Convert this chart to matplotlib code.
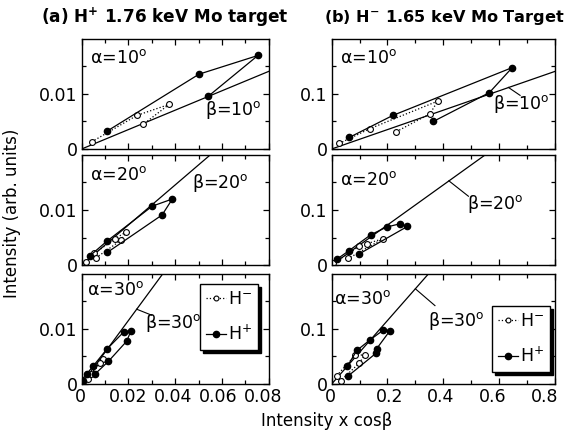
import numpy as np
import matplotlib
matplotlib.use("Agg")
import matplotlib.pyplot as plt
import matplotlib.transforms as mtransforms
from matplotlib.lines import Line2D

plt.rcParams['font.family'] = ['DejaVu Sans']
plt.rcParams['mathtext.fontset'] = 'dejavusans'

# angulos
alphas = [10, 20, 30]
betas = [10, 20, 30]

# (a) H+ 1.76 keV -- columna izquierda
a10_hp_x = [0.0107, 0.0502, 0.0754, 0.0542]
a10_hp_y = [0.0032, 0.0136, 0.0170, 0.0096]
a10_hm_x = [0.0043, 0.0236, 0.0374, 0.0264]
a10_hm_y = [0.0013, 0.0061, 0.0081, 0.0045]

a20_hp_x = [0.0036, 0.0107, 0.0302, 0.0388, 0.0344, 0.0110]
a20_hp_y = [0.0017, 0.0043, 0.0107, 0.0120, 0.0091, 0.0023]
a20_hm_x = [0.0019, 0.0054, 0.0143, 0.0190, 0.0168, 0.0061]
a20_hm_y = [0.0005, 0.0021, 0.0048, 0.0060, 0.0045, 0.0013]

a30_hp_x = [0.0007, 0.0021, 0.0050, 0.0107, 0.0181, 0.0211, 0.0193, 0.0114, 0.0057]
a30_hp_y = [0.0006, 0.0018, 0.0033, 0.0063, 0.0095, 0.0097, 0.0078, 0.0041, 0.0018]
a30_hm_x = [0.0000, 0.0013, 0.0041, 0.0091, 0.0077, 0.0028]
a30_hm_y = [0.0002, 0.0009, 0.0018, 0.0045, 0.0039, 0.0009]

# (b) H- 1.65 keV -- columna derecha
b10_hp_x = [0.063, 0.219, 0.647, 0.565, 0.364]
b10_hp_y = [0.021, 0.061, 0.148, 0.1025, 0.050]
b10_hm_x = [0.027, 0.137, 0.380, 0.352, 0.230]
b10_hm_y = [0.010, 0.037, 0.087, 0.064, 0.031]

b20_hp_x = [0.020, 0.062, 0.140, 0.197, 0.245, 0.271, 0.098]
b20_hp_y = [0.011, 0.026, 0.055, 0.069, 0.075, 0.070, 0.020]
b20_hm_x = [0.006, 0.099, 0.128, 0.185, 0.060]
b20_hm_y = [0.003, 0.034, 0.039, 0.048, 0.012]

b30_hp_x = [0.056, 0.090, 0.137, 0.185, 0.209, 0.161, 0.159, 0.060]
b30_hp_y = [0.032, 0.061, 0.080, 0.098, 0.097, 0.064, 0.056, 0.015]
b30_hm_x = [0.018, 0.0835, 0.119, 0.099, 0.032]
b30_hm_y = [0.015, 0.052, 0.053, 0.038, 0.006]

datos_a = [(a10_hp_x, a10_hp_y, a10_hm_x, a10_hm_y),
           (a20_hp_x, a20_hp_y, a20_hm_x, a20_hm_y),
           (a30_hp_x, a30_hp_y, a30_hm_x, a30_hm_y)]
datos_b = [(b10_hp_x, b10_hp_y, b10_hm_x, b10_hm_y),
           (b20_hp_x, b20_hp_y, b20_hm_x, b20_hm_y),
           (b30_hp_x, b30_hp_y, b30_hm_x, b30_hm_y)]

# etiquetas beta (texto, inicio y fin de la linea guia)
beta_txt_a = [(0.0528, 0.0070), (0.0471, 0.0149), (0.0271, 0.0110)]
beta_lead_a = [None, None, ((0.0235, 0.0136), (0.0300, 0.0125))]
beta_txt_b = [(0.579, 0.082), (0.484, 0.110), (0.346, 0.115)]
beta_lead_b = [((0.633, 0.112), (0.675, 0.0975)),
               ((0.420, 0.153), (0.490, 0.125)),
               ((0.300, 0.173), (0.370, 0.1425))]
alpha_pos_a = [(0.045, 0.83), (0.045, 0.82), (0.03, 0.85)]
alpha_pos_b = [(0.037, 0.825), (0.037, 0.775), (0.01, 0.77)]

# desplazamiento horizontal de las etiquetas del eje x (px)
xlab_shift_a = [-1.5, -0.7, -2.3, -3.8, -5.5]
xlab_shift_b = [-1.5, 2.0, -3.0, -6.0, -10.0]

fig = plt.figure(figsize=(5.66, 4.36), dpi=100)

bottoms = [0.6583, 0.3922, 0.1193]
h = 0.2523
cols = [dict(l=0.1443, w=0.3304, xmax=0.08, ymax=0.02, xmaj=0.02, xmin=0.01,
             ymaj=[0, 0.01], ylab=['0', '0.01'], ymin=[0.005, 0.015],
             xlab=['0', '0.02', '0.04', '0.06', '0.08'], xsh=xlab_shift_a,
             datos=datos_a, btxt=beta_txt_a, blead=beta_lead_a, apos=alpha_pos_a,
             leg=(0.633, 0.91)),
        dict(l=0.586, w=0.3945, xmax=0.8, ymax=0.2, xmaj=0.2, xmin=0.1,
             ymaj=[0, 0.1], ylab=['0', '0.1'], ymin=[0.05, 0.15],
             xlab=['0', '0.2', '0.4', '0.6', '0.8'], xsh=xlab_shift_b,
             datos=datos_b, btxt=beta_txt_b, blead=beta_lead_b, apos=alpha_pos_b,
             leg=(0.717, 0.71))]

for c in cols:
    for i in range(3):
        ax = fig.add_axes([c['l'], bottoms[i], c['w'], h])
        hp_x, hp_y, hm_x, hm_y = c['datos'][i]
        # linea beta
        xb = np.array([0, c['xmax']])
        ax.plot(xb, np.tan(np.deg2rad(betas[i])) * xb, color='black', lw=0.9)
        ax.plot(hm_x, hm_y, ':', color='black', lw=0.9, marker='o', ms=4.2,
                mfc='white', mec='black', mew=0.8)
        ax.plot(hp_x, hp_y, '-', color='black', lw=0.9, marker='o', ms=4.5,
                mfc='black', mec='black')
        ax.set_xlim(0, c['xmax'])
        ax.set_ylim(0, c['ymax'])
        ax.set_xticks(np.arange(0, c['xmax'] + 1e-9, c['xmaj']))
        ax.set_xticks(np.arange(0, c['xmax'] + 1e-9, c['xmin']), minor=True)
        ax.set_yticks(c['ymaj'])
        ax.set_yticklabels(c['ylab'])
        ax.set_yticks(c['ymin'], minor=True)
        ax.tick_params(which='both', direction='in', top=True, right=True,
                       labelsize=12.5, width=0.9)
        ax.tick_params(which='major', length=4, pad=3)
        ax.tick_params(which='minor', length=3)
        if i == 2:
            ax.set_xticklabels(c['xlab'])
            for lab, dx in zip(ax.get_xticklabels(), c['xsh']):
                lab.set_transform(lab.get_transform() +
                                  mtransforms.ScaledTranslation(dx / 100, 0, fig.dpi_scale_trans))
        else:
            ax.set_xticklabels([])
        for s in ax.spines.values():
            s.set_linewidth(1.0)
        ax.text(c['apos'][i][0], c['apos'][i][1], 'α=%d$^{\\rm o}$' % alphas[i],
                transform=ax.transAxes, fontsize=12.5, va='center', ha='left')
        bx, by = c['btxt'][i]
        ax.text(bx, by, 'β=%d$^{\\rm o}$' % betas[i], fontsize=12.5,
                va='center', ha='left')
        if c['blead'][i] is not None:
            (x0, y0), (x1, y1) = c['blead'][i]
            ax.plot([x0, x1], [y0, y1], color='black', lw=0.8)
        if i == 2:
            handles = [Line2D([], [], ls=':', color='black', lw=0.9, marker='o', ms=3.5,
                              mfc='white', mec='black', mew=0.8),
                       Line2D([], [], ls='-', color='black', lw=0.9, marker='o', ms=4.5,
                              mfc='black', mec='black')]
            leg = ax.legend(handles, ['H$^{-}$', 'H$^{+}$'], loc='upper left',
                            bbox_to_anchor=c['leg'], fontsize=12.5, frameon=True,
                            fancybox=False, shadow={'color': 'black', 'alpha': 1},
                            handlelength=1.15, handletextpad=0.1, borderpad=0.35,
                            labelspacing=0.95, borderaxespad=0, numpoints=1)
            leg.get_frame().set_edgecolor('black')
            leg.get_frame().set_linewidth(1.0)

fig.text(0.2915, 0.961, '(a) H$^{\\mathbf{+}}$ 1.76 keV Mo target', fontsize=12.2,
         fontweight='bold', ha='center', va='center')
fig.text(0.997, 0.961, '(b) H$^{\\mathbf{-}}$ 1.65 keV Mo Target', fontsize=11.6,
         fontweight='bold', ha='right', va='center')
fig.text(0.021, 0.511, 'Intensity (arb. units)', rotation=90, fontsize=12,
         ha='center', va='center')
fig.text(0.577, 0.035, 'Intensity x cosβ', fontsize=12, ha='center', va='center')

fig.savefig('out.png', dpi=100)
